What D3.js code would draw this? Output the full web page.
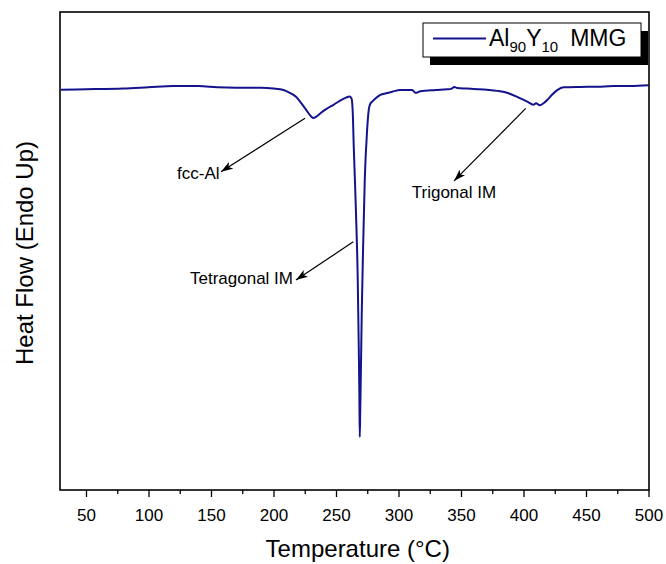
<!DOCTYPE html>
<html>
<head>
<meta charset="utf-8">
<script src="https://cdn.jsdelivr.net/npm/d3@7"></script>
<style>
  body { margin: 0; background: #fff; }
  svg { display: block; }
  text { font-family: Arial, "Liberation Sans", sans-serif; fill: #000; }
</style>
</head>
<body>
<svg id="chart" width="666" height="564"></svg>
<script>
// ---- data ----
const temperature = [30, 50, 80, 100, 120, 140, 155, 170, 190, 200, 208, 213, 218, 222, 226, 230, 232, 234, 238, 243, 248, 253, 258, 261, 262.5, 263.5, 264.2, 265, 266, 267.4, 268.2, 268.7, 269, 269.4, 269.8, 270.6, 271.7, 273, 274.9, 276.2, 277.5, 279, 282, 285.5, 290, 295, 301.5, 311, 313.5, 317.5, 330, 339, 342, 344.7, 347, 349.5, 360, 379, 388, 395, 403, 408, 410, 413, 416, 419, 423, 427, 432, 445, 459, 472, 485.6, 500];
const heatFlow = [0.05, 0.06, 0.08, 0.11, 0.14, 0.14, 0.11, 0.10, 0.10, 0.08, 0.04, -0.03, -0.13, -0.28, -0.45, -0.62, -0.66, -0.63, -0.53, -0.42, -0.33, -0.23, -0.15, -0.12, -0.18, -0.6, -1.38, -2.1, -3.05, -4.73, -6.40, -7.6, -8.67, -8.0, -7.24, -5.56, -3.90, -2.22, -0.96, -0.46, -0.30, -0.25, -0.16, -0.08, -0.04, 0.0, 0.04, 0.04, -0.03, 0.01, 0.04, 0.06, 0.07, 0.12, 0.09, 0.085, 0.07, 0.02, -0.04, -0.13, -0.25, -0.33, -0.29, -0.34, -0.29, -0.21, -0.07, 0.04, 0.11, 0.12, 0.125, 0.14, 0.14, 0.16];
const xMajorTicks = [50, 100, 150, 200, 250, 300, 350, 400, 450, 500];
const xMinorTicks = [75, 125, 175, 225, 275, 325, 375, 425, 475];
const seriesName = ["Al", "90", "Y", "10", "MMG"];
// annotations: label, text anchor [T, v], arrow start [T, v], arrow tip [T, v]
const annoLabels = ["fcc-Al", "Tetragonal IM", "Trigonal IM"];
const annoText = [[122.8, -2.2], [133.2, -4.83], [310.6, -2.66]];
const annoFrom = [[225.2, -0.67], [263.8, -3.77], [401.8, -0.42]];
const annoTo = [[158, -2.01], [218, -4.73], [344.4, -2.24]];

// ---- layout ----
const svg = d3.select("#chart");
const plotLeft = 61, plotRight = 648.5, plotTop = 12, plotBottom = 490;
const x = d3.scaleLinear().domain([30, 500]).range([plotLeft, plotRight]);
const y = d3.scaleLinear().domain([-10, 2]).range([plotBottom, plotTop]);
const lineColor = "#13138e";

// defs: arrowhead
svg.append("defs").append("marker")
  .attr("id", "arrow").attr("viewBox", "0 0 12 8")
  .attr("refX", 12).attr("refY", 4)
  .attr("markerWidth", 12).attr("markerHeight", 8)
  .attr("markerUnits", "userSpaceOnUse")
  .attr("orient", "auto")
  .append("path").attr("d", "M0,0 L12,4 L0,8 L3,4 Z").attr("fill", "#000");

// curve
const data = temperature.map((t, i) => [t, heatFlow[i]]);
svg.append("path")
  .datum(data)
  .attr("fill", "none")
  .attr("stroke", lineColor)
  .attr("stroke-width", 2)
  .attr("stroke-linejoin", "round")
  .attr("d", d3.line().x(d => x(d[0])).y(d => y(d[1])).curve(d3.curveMonotoneX));

// frame
svg.append("rect")
  .attr("x", plotLeft - 1).attr("y", plotTop).attr("width", plotRight - plotLeft + 1.5).attr("height", plotBottom - plotTop)
  .attr("fill", "none").attr("stroke", "#000").attr("stroke-width", 1.6);

// x axis major
const gx = svg.append("g").attr("transform", `translate(0,${plotBottom})`)
  .call(d3.axisBottom(x).tickValues(xMajorTicks).tickSize(7).tickSizeOuter(0).tickPadding(12).tickFormat(d3.format("d")));
gx.select(".domain").remove();
gx.selectAll(".tick line").attr("stroke", "#000").attr("stroke-width", 1.3);
gx.selectAll(".tick text").style("font-size", "17px").attr("font-family", "Arial, 'Liberation Sans', sans-serif");

// x axis minor
const gxm = svg.append("g").attr("transform", `translate(0,${plotBottom})`)
  .call(d3.axisBottom(x).tickValues(xMinorTicks).tickSize(4).tickSizeOuter(0).tickFormat(""));
gxm.select(".domain").remove();
gxm.selectAll(".tick line").attr("stroke", "#000").attr("stroke-width", 1.3);

// axis titles
svg.append("text").attr("x", (plotLeft + plotRight) / 2 + 3).attr("y", 557)
  .attr("text-anchor", "middle").style("font-size", "24px").text("Temperature (°C)");
svg.append("text").attr("transform", "translate(33,253) rotate(-90)")
  .attr("text-anchor", "middle").style("font-size", "24px").text("Heat Flow (Endo Up)");

// annotations
annoLabels.forEach((lab, i) => {
  svg.append("line")
    .attr("x1", x(annoFrom[i][0])).attr("y1", y(annoFrom[i][1]))
    .attr("x2", x(annoTo[i][0])).attr("y2", y(annoTo[i][1]))
    .attr("stroke", "#000").attr("stroke-width", 1.2)
    .attr("marker-end", "url(#arrow)");
  svg.append("text").attr("x", x(annoText[i][0])).attr("y", y(annoText[i][1]))
    .style("font-size", "17px").text(lab);
});

// legend
const lg = svg.append("g");
lg.append("rect").attr("x", 430).attr("y", 31).attr("width", 218).attr("height", 34).attr("fill", "#000");
lg.append("rect").attr("x", 423).attr("y", 23).attr("width", 218).attr("height", 34)
  .attr("fill", "#fff").attr("stroke", "#000").attr("stroke-width", 1);
lg.append("line").attr("x1", 433).attr("x2", 486).attr("y1", 38.5).attr("y2", 38.5)
  .attr("stroke", lineColor).attr("stroke-width", 2);
const lt = lg.append("text").attr("x", 489).attr("y", 46).style("font-size", "23px");
lt.append("tspan").text(seriesName[0]);
lt.append("tspan").attr("dy", 6).style("font-size", "15px").text(seriesName[1]);
lt.append("tspan").attr("dy", -6).text(seriesName[2]);
lt.append("tspan").attr("dy", 6).style("font-size", "15px").text(seriesName[3]);
lt.append("tspan").attr("dy", -6).attr("dx", 12).text(seriesName[4]);
</script>
</body>
</html>
